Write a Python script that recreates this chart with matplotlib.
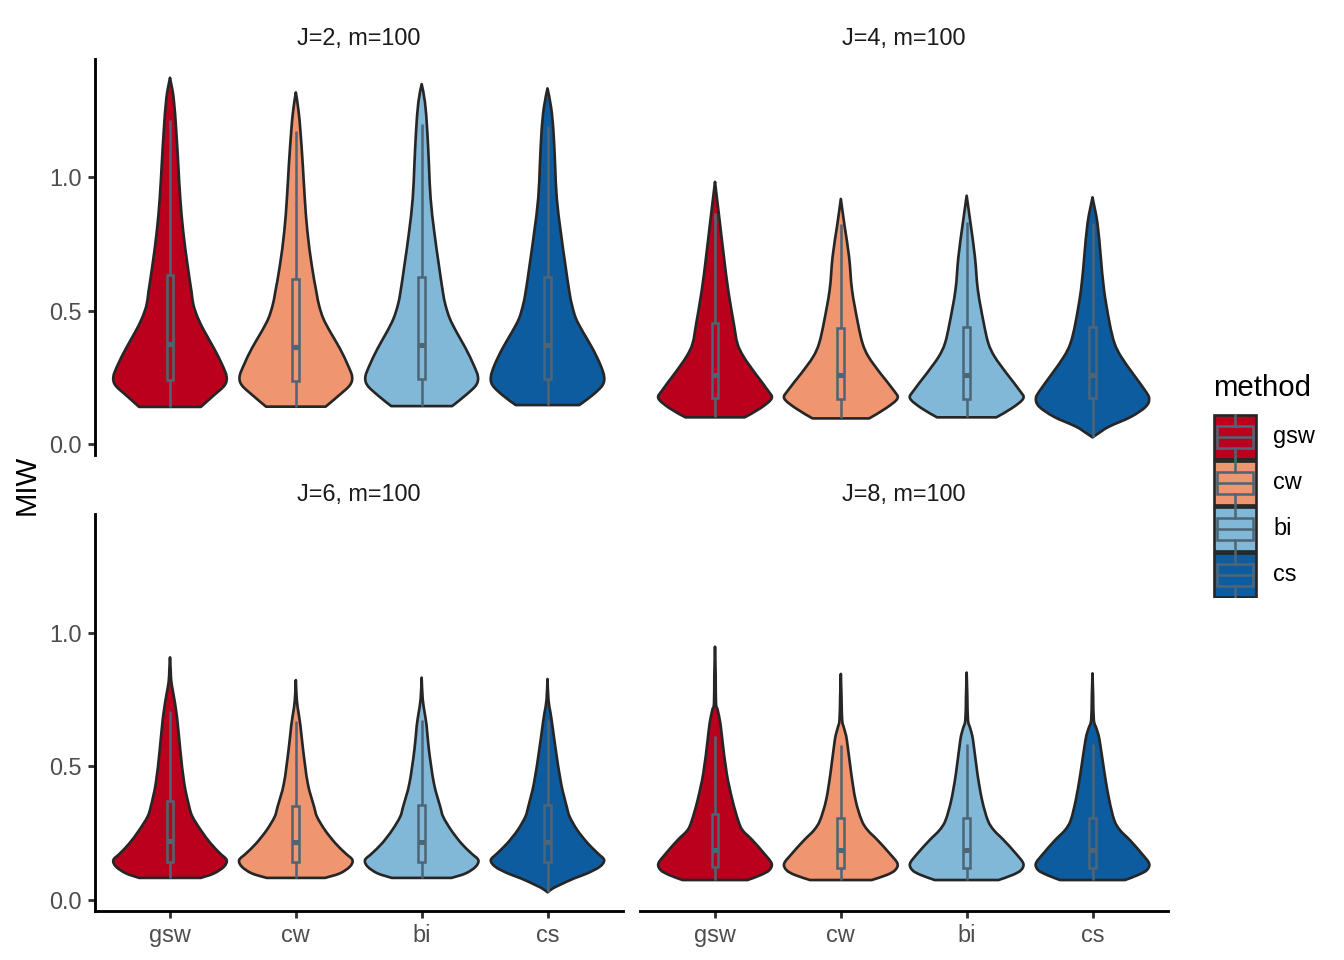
#
# MIW violins with inner boxplots, four facets
#

import numpy as np
import matplotlib
matplotlib.use('Agg')
from matplotlib import pyplot as plt
from matplotlib.patches import PathPatch, Rectangle
from matplotlib.path import Path

plt.rcParams['font.family'] = ['Liberation Sans', 'DejaVu Sans']

methods = ['gsw', 'cw', 'bi', 'cs']
colors = ['#BA001D', '#EF9570', '#82B8D7', '#0D5CA0']
panels = ['J=2, m=100', 'J=4, m=100', 'J=6, m=100', 'J=8, m=100']
yticks = [0.0, 0.5, 1.0]
ylabels = ['0.0', '0.5', '1.0']

# violin outlines : MIW levels (bottom to top) and relative half widths
j2_y = [[0.139, 0.183, 0.220, 0.252, 0.296, 0.358, 0.420, 0.470, 0.520, 0.570, 0.670, 0.795, 0.920, 1.045, 1.170, 1.295, 1.372],
        [0.140, 0.183, 0.220, 0.252, 0.296, 0.358, 0.420, 0.470, 0.520, 0.570, 0.670, 0.795, 0.920, 1.045, 1.170, 1.250, 1.317],
        [0.142, 0.183, 0.220, 0.252, 0.296, 0.358, 0.420, 0.470, 0.520, 0.570, 0.670, 0.795, 0.920, 1.045, 1.170, 1.280, 1.348],
        [0.146, 0.183, 0.220, 0.252, 0.296, 0.358, 0.420, 0.470, 0.520, 0.570, 0.670, 0.795, 0.920, 1.045, 1.170, 1.260, 1.332]]
j2_d = [[93, 133, 165, 171, 158, 133, 105, 85, 71, 65, 53, 40, 31, 25, 19, 11, 0],
        [90, 131, 163, 170, 157, 133, 104, 83, 70, 62, 48, 35, 27, 21, 14, 8, 0],
        [92, 133, 164, 170, 157, 133, 105, 85, 72, 64, 52, 38, 27, 22, 17, 10, 0],
        [96, 136, 166, 171, 160, 136, 107, 86, 74, 66, 54, 40, 28, 23, 18, 11, 0]]

j4_y = [[0.100, 0.134, 0.171, 0.202, 0.265, 0.327, 0.377, 0.452, 0.577, 0.702, 0.827, 0.920, 0.982],
        [0.096, 0.134, 0.171, 0.202, 0.265, 0.327, 0.377, 0.452, 0.577, 0.702, 0.820, 0.918],
        [0.100, 0.134, 0.171, 0.202, 0.265, 0.327, 0.377, 0.452, 0.577, 0.702, 0.833, 0.930],
        [0.025, 0.040, 0.065, 0.102, 0.140, 0.171, 0.202, 0.265, 0.327, 0.377, 0.452, 0.577, 0.702, 0.827, 0.924]]
j4_d = [[90, 138, 172, 160, 122, 87, 68, 57, 40, 27, 15, 6, 0],
        [86, 137, 172, 160, 120, 84, 66, 52, 34, 25, 11, 0],
        [90, 137, 172, 160, 121, 85, 66, 52, 34, 25, 11, 0],
        [0, 18, 50, 117, 162, 172, 159, 122, 87, 67, 52, 35, 25, 15, 0]]

j6_y = [[0.081, 0.098, 0.123, 0.148, 0.173, 0.210, 0.260, 0.310, 0.348, 0.435, 0.560, 0.685, 0.772, 0.816, 0.860, 0.907],
        [0.081, 0.098, 0.123, 0.148, 0.173, 0.210, 0.260, 0.310, 0.348, 0.435, 0.560, 0.650, 0.700, 0.747, 0.822],
        [0.081, 0.098, 0.123, 0.148, 0.173, 0.210, 0.260, 0.310, 0.348, 0.435, 0.560, 0.650, 0.700, 0.753, 0.831],
        [0.027, 0.040, 0.054, 0.079, 0.098, 0.123, 0.148, 0.173, 0.210, 0.260, 0.310, 0.348, 0.435, 0.560, 0.650, 0.700, 0.747, 0.826]]
j6_d = [[93, 133, 163, 171, 151, 123, 93, 68, 58, 43, 31, 21, 10, 4, 2, 0],
        [88, 133, 163, 171, 150, 120, 88, 64, 55, 36, 22, 14, 8, 3, 0],
        [90, 133, 163, 171, 150, 120, 89, 65, 56, 37, 22, 15, 9, 3, 0],
        [0, 14, 36, 80, 120, 158, 171, 152, 122, 90, 67, 58, 41, 25, 15, 9, 3, 0]]

j8_y = [[0.073, 0.092, 0.110, 0.135, 0.172, 0.222, 0.260, 0.297, 0.372, 0.472, 0.597, 0.660, 0.710, 0.735, 0.840, 0.947],
        [0.073, 0.092, 0.110, 0.135, 0.172, 0.222, 0.260, 0.297, 0.372, 0.472, 0.597, 0.640, 0.672, 0.760, 0.845],
        [0.073, 0.092, 0.110, 0.135, 0.172, 0.222, 0.260, 0.297, 0.372, 0.472, 0.597, 0.640, 0.672, 0.760, 0.850],
        [0.073, 0.092, 0.110, 0.135, 0.172, 0.222, 0.260, 0.297, 0.372, 0.472, 0.597, 0.640, 0.672, 0.760, 0.847]]
j8_d = [[97, 137, 162, 169, 147, 112, 82, 69, 52, 35, 22, 16, 8, 3, 2, 0],
        [92, 137, 162, 169, 146, 110, 80, 62, 44, 31, 18, 10, 4, 2, 0],
        [95, 137, 162, 169, 147, 111, 81, 63, 46, 32, 19, 11, 4, 2, 0],
        [97, 136, 162, 169, 147, 112, 82, 65, 50, 36, 21, 12, 4, 2, 0]]

# boxplots : lower whisker, q1, median, q3, upper whisker
j2_box = [[0.140, 0.240, 0.375, 0.633, 1.213],
          [0.140, 0.237, 0.365, 0.617, 1.172],
          [0.142, 0.242, 0.371, 0.627, 1.200],
          [0.146, 0.242, 0.371, 0.624, 1.190]]
j4_box = [[0.100, 0.171, 0.258, 0.452, 0.864],
          [0.096, 0.170, 0.258, 0.433, 0.823],
          [0.100, 0.170, 0.258, 0.437, 0.833],
          [0.025, 0.171, 0.258, 0.437, 0.829]]
j6_box = [[0.081, 0.140, 0.218, 0.368, 0.708],
          [0.081, 0.140, 0.215, 0.352, 0.667],
          [0.081, 0.140, 0.215, 0.354, 0.672],
          [0.027, 0.140, 0.215, 0.354, 0.672]]
j8_box = [[0.073, 0.122, 0.186, 0.321, 0.612],
          [0.073, 0.119, 0.184, 0.306, 0.577],
          [0.073, 0.119, 0.184, 0.306, 0.582],
          [0.073, 0.119, 0.184, 0.306, 0.582]]

all_y = [j2_y, j4_y, j6_y, j8_y]
all_d = [j2_d, j4_d, j6_d, j8_d]
all_box = [j2_box, j4_box, j6_box, j8_box]

outline = '#262626'
boxcol = '#4E6576'

# =========================================================================

def smooth_side(pts):
  """ bezier controls of a catmull-rom curve through the outline points """
  p = np.vstack([pts[:1], pts, pts[-1:]])
  verts = []
  for i in range(1, len(p) - 2):
    verts += [p[i] + (p[i+1] - p[i-1]) / 6, p[i+1] - (p[i+2] - p[i]) / 6, p[i+1]]
  return verts


def violin(ax, x, yv, half, fc):
  """ symmetric violin around x, flat where trimmed """
  yv = np.asarray(yv)
  left = np.column_stack([x - half, yv])
  right = np.column_stack([x + half, yv])[::-1]
  a = smooth_side(left)
  b = smooth_side(right)
  verts = [left[0]] + a + b + [left[0]]
  codes = [Path.MOVETO] + [Path.CURVE4] * (len(a) + len(b)) + [Path.CLOSEPOLY]
  ax.add_patch(PathPatch(Path(verts, codes), fc=fc, ec=outline, lw=1.0,
                         joinstyle='round', zorder=2))


def boxplot(ax, x, st, w=0.055):
  lo, q1, med, q3, hi = st
  ax.add_patch(Rectangle((x - w/2, q1), w, q3 - q1, fill=False,
                         ec=boxcol, lw=0.95, zorder=3))
  ax.plot([x, x], [lo, q1], color=boxcol, lw=0.95, zorder=3, solid_capstyle='butt')
  ax.plot([x, x], [q3, hi], color=boxcol, lw=0.95, zorder=3, solid_capstyle='butt')
  ax.plot([x - w/2, x + w/2], [med, med], color=boxcol, lw=1.9, zorder=3,
          solid_capstyle='butt')

# ============================= mainProgram ===============================

fig = plt.figure(figsize=(7, 5), dpi=192)

W, H = 1344.0, 960.0
lefts = [94.5/W, 639.5/W, 94.5/W, 639.5/W]
bottoms = [1 - 455.4/H, 1 - 455.4/H, 1 - 910.9/H, 1 - 910.9/H]
pw, ph = 528.5/W, 396.7/H

for k in range(4):
  ax = fig.add_axes([lefts[k], bottoms[k], pw, ph])
  ax.set_xlim(0.4, 4.6)
  ax.set_ylim(-0.0426, 1.4433)
  dmax = max(max(d) for d in all_d[k])
  for i in range(4):
    half = np.asarray(all_d[k][i], dtype=float) / dmax * 0.45
    violin(ax, i + 1, all_y[k][i], half, colors[i])
    boxplot(ax, i + 1, all_box[k][i])

  for s in ['top', 'right']:
    ax.spines[s].set_visible(False)
  ax.spines['left'].set_visible(k in (0, 2))
  ax.spines['bottom'].set_visible(k in (2, 3))
  for s in ['left', 'bottom']:
    ax.spines[s].set_linewidth(1.07)
    ax.spines[s].set_color('black')

  ax.set_xticks([1, 2, 3, 4])
  ax.set_yticks(yticks)
  ax.tick_params(length=2.75, width=1.07, color='#333333', labelcolor='#4D4D4D',
                 labelsize=8.8, pad=2.2)
  if k in (0, 2):
    ax.set_yticklabels(ylabels)
  else:
    ax.tick_params(axis='y', left=False, labelleft=False)
  if k in (2, 3):
    ax.set_xticklabels(methods)
  else:
    ax.tick_params(axis='x', bottom=False, labelbottom=False)
  ax.patch.set_alpha(0)

  ax.text(0.5, 1 + 20/396.7, panels[k], transform=ax.transAxes, ha='center',
          va='center', fontsize=8.8, color='#1A1A1A')

fig.text(27/W, 1 - 484.5/H, 'MIW', rotation=90, ha='center', va='center',
         fontsize=11, color='black')

# legend
fig.text(1212.7/W, 1 - 388/H, 'method', ha='left', va='center', fontsize=11)
lax = fig.add_axes([1212.7/W, 1 - 598/H, 45/W, 184/H])
lax.set_xlim(0, 1)
lax.set_ylim(4, 0)
lax.axis('off')
for i in range(4):
  lax.add_patch(Rectangle((0.03, i + 0.025), 0.94, 0.95, fc=colors[i], ec=outline, lw=1.0))
  lax.plot([0.5, 0.5], [i + 0.025, i + 0.27], color=boxcol, lw=0.95)
  lax.plot([0.5, 0.5], [i + 0.73, i + 0.975], color=boxcol, lw=0.95)
  lax.add_patch(Rectangle((0.1, i + 0.27), 0.8, 0.46, fill=False, ec=boxcol, lw=0.95))
  lax.plot([0.1, 0.9], [i + 0.5, i + 0.5], color=boxcol, lw=0.95)
  fig.text(1273.3/W, 1 - (414.3 + 46*i + 22.5)/H, methods[i], ha='left',
           va='center', fontsize=8.8)

plt.savefig('out.png', dpi=192)
